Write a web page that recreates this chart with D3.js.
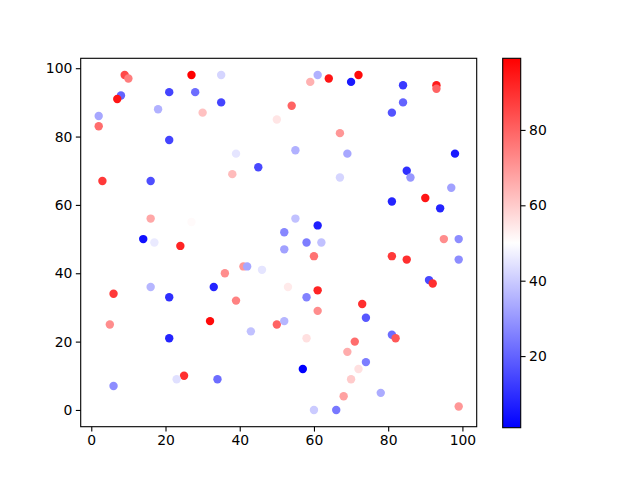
<!DOCTYPE html>
<html>
<head>
<meta charset="utf-8">
<script src="https://cdn.jsdelivr.net/npm/d3@7"></script>
<style>
  body { margin: 0; background: #fff; }
  svg text { font-family: 'DejaVu Sans', sans-serif; }
</style>
</head>
<body>
<svg width="640" height="480"></svg>
<script>
// scatter values (x, y, colour value)
let xs = [9, 10, 8, 7, 27, 35, 21, 28, 35, 18, 30, 2, 2, 50, 21, 39, 45, 38, 3, 16, 16, 27, 14, 17, 24,
  61, 59, 64, 70, 72, 84, 93, 93, 84, 81, 54, 67, 55, 69, 98, 85, 86, 67, 97, 81, 90, 94, 55, 52, 61, 58, 62, 95, 99, 52,
  41, 42, 46, 36, 6, 16, 21, 33, 39, 5, 32, 43, 50, 21, 25, 23, 34, 6,
  60, 81, 85, 99, 91, 92, 53, 61, 58, 61, 73, 74, 52, 58, 81, 82, 71, 69, 74, 72, 57, 70, 68, 78, 60, 66, 99];
let ys = [98, 97, 92, 91, 98, 98, 93, 93, 90, 88, 87, 86, 83, 85, 79, 75, 71, 69, 67, 67, 56, 55, 50, 49, 48,
  98, 96, 97, 96, 98, 95, 95, 94, 90, 87, 89, 81, 76, 75, 75, 70, 68, 68, 65, 61, 62, 59, 56, 52, 54, 49, 49, 50, 50, 47,
  42, 42, 41, 40, 34, 36, 33, 36, 32, 25, 26, 23, 25, 21, 10, 9, 9, 7,
  45, 45, 44, 44, 38, 37, 36, 35, 33, 29, 31, 27, 26, 21, 22, 21, 20, 17, 14, 12, 12, 9, 4, 5, 0, 0, 1];
let cs = [85, 75, 20, 95, 99, 42, 14, 22, 14, 35, 62, 33, 78, 55, 14, 45, 15, 63, 88, 16, 67, 51, 4, 46, 92,
  35, 65, 95, 6, 97, 12, 94, 80, 20, 17, 80, 70, 35, 33, 6, 10, 30, 42, 32, 8, 95, 8, 38, 27, 7, 25, 38, 72, 28, 32,
  70, 33, 45, 72, 88, 36, 10, 8, 74, 72, 97, 38, 80, 8, 90, 44, 22, 28,
  77, 88, 90, 28, 15, 90, 54, 92, 26, 72, 90, 18, 36, 56, 22, 82, 78, 66, 25, 56, 1, 60, 68, 34, 40, 24, 70];
let xTicks = [0, 20, 40, 60, 80, 100];
let yTicks = [0, 20, 40, 60, 80, 100];
let cTicks = [20, 40, 60, 80];

let svg = d3.select('svg');
let margin = {top: 58.3, left: 80.7};
let width = 396, height = 368.4;
let g = svg.append('g').attr('transform', 'translate(' + margin.left + ',' + margin.top + ')');

// matplotlib style 5% margins around the data
let xe = d3.extent(xs), ye = d3.extent(ys);
let xp = (xe[1] - xe[0]) * 0.05, yp = (ye[1] - ye[0]) * 0.05;
let x = d3.scaleLinear().domain([xe[0] - xp, xe[1] + xp]).range([0, width]);
let y = d3.scaleLinear().domain([ye[0] - yp, ye[1] + yp]).range([height, 0]);
let ce = d3.extent(cs);
let color = d3.scaleLinear()
  .domain([ce[0], (ce[0] + ce[1]) / 2, ce[1]])
  .range(['#0000ff', '#ffffff', '#ff0000']);

let data = xs.map(function(d, i) { return {x: d, y: ys[i], c: cs[i]}; });

g.selectAll('circle')
  .data(data)
  .enter().append('circle')
  .attr('cx', function(d) { return x(d.x); })
  .attr('cy', function(d) { return y(d.y); })
  .attr('r', 4.2)
  .attr('fill', function(d) { return color(d.c); });

let tick = 4.86;
let xAxis = g.append('g')
  .attr('transform', 'translate(0,' + height + ')')
  .call(d3.axisBottom(x).tickValues(xTicks).tickSize(tick).tickPadding(3.5));
let yAxis = g.append('g')
  .call(d3.axisLeft(y).tickValues(yTicks).tickSize(tick).tickPadding(3.5));

g.append('rect')
  .attr('width', width)
  .attr('height', height)
  .attr('fill', 'none')
  .attr('stroke', '#000')
  .attr('stroke-width', 1.1);

[xAxis, yAxis].forEach(function(a) {
  a.select('.domain').remove();
  a.selectAll('line').attr('stroke', '#000').attr('stroke-width', 1.1);
  a.selectAll('text').attr('font-size', 13.9).attr('fill', '#000');
});

// colorbar
let cbX = 502.7, cbW = 18;
let cb = svg.append('g').attr('transform', 'translate(' + cbX + ',' + margin.top + ')');
let cScale = d3.scaleLinear().domain(ce).range([369.4, 0]);
let grad = svg.append('defs').append('linearGradient')
  .attr('id', 'bwr')
  .attr('x1', 0).attr('y1', 1).attr('x2', 0).attr('y2', 0);
grad.selectAll('stop')
  .data([0, 0.5, 1])
  .enter().append('stop')
  .attr('offset', function(d) { return d; })
  .attr('stop-color', function(d) { return color(ce[0] + d * (ce[1] - ce[0])); });

cb.append('rect')
  .attr('width', cbW)
  .attr('height', 369.4)
  .attr('fill', 'url(#bwr)')
  .attr('stroke', '#000')
  .attr('stroke-width', 1.1);

let cAxis = cb.append('g')
  .attr('transform', 'translate(' + cbW + ',0)')
  .call(d3.axisRight(cScale).tickValues(cTicks).tickSize(tick).tickPadding(3.5));
cAxis.select('.domain').remove();
cAxis.selectAll('line').attr('stroke', '#000').attr('stroke-width', 1.1);
cAxis.selectAll('text').attr('font-size', 13.9).attr('fill', '#000');
</script>
</body>
</html>
